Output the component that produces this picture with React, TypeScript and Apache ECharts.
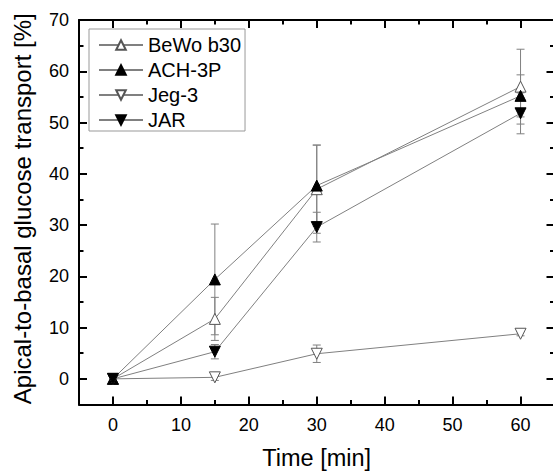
import React, { useEffect, useRef } from "react";
import * as echarts from "echarts";

const times = [0, 15, 30, 60];
const seriesNames = ["BeWo b30", "ACH-3P", "Jeg-3", "JAR"];
const bewo = [0, 11.7, 37.0, 57.0];
const bewoErr = [0, 4.2, 8.6, 7.3];
const ach = [0, 19.4, 37.7, 55.2];
const achErr = [0, 10.8, 7.9, 4.1];
const jeg = [0, 0.3, 4.9, 8.8];
const jegErr = [0, 0.6, 1.7, 0.4];
const jar = [0, 5.3, 29.6, 51.8];
const jarErr = [0, 1.4, 2.9, 4.0];

const xMajor = [0, 10, 20, 30, 40, 50, 60];
const xMinor = [5, 15, 25, 35, 45, 55];
const yMajor = [0, 10, 20, 30, 40, 50, 60, 70];
const yMinor = [5, 15, 25, 35, 45, 55, 65];

const FONT = "Liberation Sans, Arial, sans-serif";
const DOWN_TRI = "path://M0,0L10,0L5,9Z";

export default function App() {
  const ref = useRef<HTMLDivElement>(null);
  useEffect(() => {
    document.body.style.margin = "0";
    const chart = echarts.init(ref.current!, null, { renderer: "svg" });

    const values = [bewo, ach, jeg, jar];
    const errs = [bewoErr, achErr, jegErr, jarErr];
    const styles = [
      { symbol: "triangle", fill: "#ffffff", stroke: "#555555" },
      { symbol: "triangle", fill: "#000000", stroke: "#000000" },
      { symbol: DOWN_TRI, fill: "#ffffff", stroke: "#555555" },
      { symbol: DOWN_TRI, fill: "#000000", stroke: "#000000" },
    ];

    const lineSeries = seriesNames.map((name, i) => ({
      type: "line",
      name,
      data: times.map((t, j) => [t, values[i][j]]),
      symbol: styles[i].symbol,
      symbolSize: 11,
      showAllSymbol: true,
      z: 5,
      lineStyle: { color: "#808080", width: 1 },
      itemStyle: { color: styles[i].fill, borderColor: styles[i].stroke, borderWidth: 1, opacity: 1 },
      emphasis: { disabled: true },
    }));

    const errSeries = seriesNames.map((name, i) => ({
      type: "custom",
      name: name + " err",
      z: 2,
      data: times.map((t, j) => [t, values[i][j], errs[i][j]]),
      renderItem: (params: any, api: any) => {
        const x = api.value(0);
        const y = api.value(1);
        const e = api.value(2);
        if (!e) return { type: "group", children: [] };
        const top = api.coord([x, y + e]);
        const bot = api.coord([x, y - e]);
        const w = 4;
        const st = { stroke: "#808080", lineWidth: 1 };
        return {
          type: "group",
          children: [
            { type: "line", shape: { x1: top[0], y1: top[1], x2: bot[0], y2: bot[1] }, style: st },
            { type: "line", shape: { x1: top[0] - w, y1: top[1], x2: top[0] + w, y2: top[1] }, style: st },
            { type: "line", shape: { x1: bot[0] - w, y1: bot[1], x2: bot[0] + w, y2: bot[1] }, style: st },
          ],
        };
      },
    }));

    const axisLine = { show: true, onZero: false, lineStyle: { color: "#000", width: 2 } };
    const noLine = { show: false, onZero: false };
    const majorTick = (vals: number[]) => ({
      show: true,
      inside: true,
      length: 8,
      customValues: vals,
      lineStyle: { color: "#000", width: 2 },
    });
    const minorTick = (vals: number[]) => ({
      show: true,
      inside: true,
      length: 4.5,
      customValues: vals,
      lineStyle: { color: "#000", width: 2 },
    });

    const xBase = { type: "value", min: -5, max: 65, splitLine: { show: false } };
    const yBase = { type: "value", min: -5, max: 70, splitLine: { show: false } };

    chart.setOption({
      animation: false,
      backgroundColor: "#ffffff",
      grid: {
        left: 79,
        top: 20,
        width: 475.5,
        height: 384.5,
        containLabel: false,
        outerBoundsMode: "none",
      },
      legend: {
        orient: "vertical",
        left: 89,
        top: 29,
        data: seriesNames,
        itemWidth: 44,
        itemHeight: 12,
        itemGap: 5,
        padding: [6, 4, 1, 9],
        borderColor: "#999999",
        borderWidth: 1,
        backgroundColor: "#ffffff",
        selectedMode: false,
        textStyle: { fontFamily: FONT, fontSize: 20, color: "#000" },
      },
      xAxis: [
        {
          ...xBase,
          position: "bottom",
          axisLine,
          axisTick: majorTick(xMajor),
          axisLabel: { customValues: xMajor, fontFamily: FONT, fontSize: 18, color: "#000", margin: 11 },
          name: "Time [min]",
          nameLocation: "middle",
          nameGap: 41,
          nameTextStyle: { fontFamily: FONT, fontSize: 23.5, color: "#000" },
        },
        { ...xBase, position: "bottom", axisLine: noLine, axisTick: minorTick(xMinor), axisLabel: { show: false } },
        { ...xBase, position: "top", axisLine, axisTick: majorTick(xMajor), axisLabel: { show: false } },
        { ...xBase, position: "top", axisLine: noLine, axisTick: minorTick(xMinor), axisLabel: { show: false } },
      ],
      yAxis: [
        {
          ...yBase,
          position: "left",
          axisLine,
          axisTick: majorTick(yMajor),
          axisLabel: { customValues: yMajor, fontFamily: FONT, fontSize: 18, color: "#000", margin: 10 },
          name: "Apical-to-basal glucose transport [%]",
          nameLocation: "middle",
          nameGap: 45,
          nameTextStyle: { fontFamily: FONT, fontSize: 24, color: "#000", padding: [0, 0, 0, 7] },
        },
        { ...yBase, position: "left", axisLine: noLine, axisTick: minorTick(yMinor), axisLabel: { show: false } },
        { ...yBase, position: "right", axisLine, axisTick: majorTick(yMajor), axisLabel: { show: false } },
        { ...yBase, position: "right", axisLine: noLine, axisTick: minorTick(yMinor), axisLabel: { show: false } },
      ],
      series: [...errSeries, ...lineSeries],
    });
    return () => chart.dispose();
  }, []);
  return (
    <div
      ref={ref}
      style={{ position: "fixed", left: 0, top: 0, width: 553, height: 471, background: "#fff" }}
    />
  );
}
